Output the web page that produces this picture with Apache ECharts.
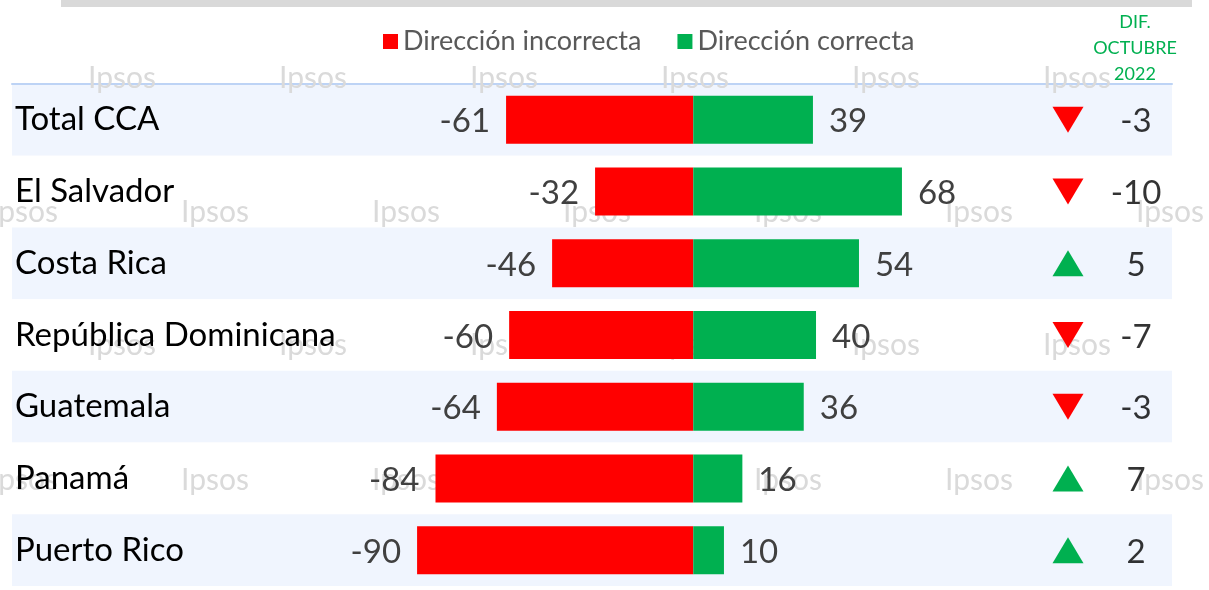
<!DOCTYPE html>
<html>
<head>
<meta charset="utf-8">
<script src="https://cdn.jsdelivr.net/npm/echarts@6/dist/echarts.min.js"></script>
<style>
  html, body { margin: 0; padding: 0; background: #fff; }
  #chart { width: 1209px; height: 590px; }
</style>
</head>
<body>
<div id="chart"></div>
<script>
// datos
const paises = ['Total CCA', 'El Salvador', 'Costa Rica', 'República Dominicana', 'Guatemala', 'Panamá', 'Puerto Rico']
const incorrecta = [-61, -32, -46, -60, -64, -84, -90]
const correcta = [39, 68, 54, 40, 36, 16, 10]
const difOctubre = [-3, -10, 5, -7, -3, 7, 2]
const columnasDif = ['flecha', 'dif']

const FONT = 'Lato'
const ROJO = '#FF0000'
const VERDE = '#00B050'

const chart = echarts.init(document.getElementById('chart'))

// marcas de agua "Ipsos"
const marcas = []
const filasMarca = [[78, 88], [212, -10], [345, 88], [480, -10]]
filasMarca.forEach(([y, x0]) => {
  for (let k = 0; k < 7; k++) {
    marcas.push({
      type: 'text', z: 1, x: x0 + 191 * k, y: y,
      style: { text: 'Ipsos', font: '30px ' + FONT, fill: '#DADADA', verticalAlign: 'middle' }
    })
  }
})

chart.setOption({
  animation: false,
  legend: {
    left: 378, top: 23,
    icon: 'rect', itemWidth: 15, itemHeight: 15, itemGap: 36,
    textStyle: { fontFamily: FONT, fontSize: 27, color: '#595959' },
    data: ['Dirección incorrecta', 'Dirección correcta']
  },
  graphic: [
    { type: 'rect', z: 1, shape: { x: 61, y: 0, width: 1131, height: 7 }, style: { fill: '#D9D9D9' } },
    {
      type: 'text', z: 5, x: 1135, y: 9,
      style: {
        text: 'DIF.\nOCTUBRE\n2022', font: '18px ' + FONT, fill: VERDE,
        align: 'center', lineHeight: 26
      }
    }
  ].concat(marcas),
  grid: [
    { left: 12, width: 1160, top: 84, height: 502 },
    { left: 1034, width: 136, top: 84, height: 502 }
  ],
  xAxis: [
    {
      type: 'value', gridIndex: 0, position: 'top', min: -222, max: 156,
      axisLine: { show: true, lineStyle: { color: '#BDD3F5', width: 2 } },
      axisTick: { show: false }, axisLabel: { show: false }, splitLine: { show: false }
    },
    {
      type: 'category', gridIndex: 1, data: columnasDif, show: false
    }
  ],
  yAxis: [
    {
      type: 'category', gridIndex: 0, data: paises, inverse: true, z: 0,
      axisLine: { show: false }, axisTick: { show: false }, axisLabel: { show: false },
      splitArea: { show: true, areaStyle: { color: ['#F0F5FE', '#FFFFFF'] } }
    },
    {
      type: 'category', gridIndex: 0, data: paises, inverse: true, z: 5, position: 'left',
      axisLine: { show: false }, axisTick: { show: false },
      axisLabel: {
        inside: true, margin: 3, fontFamily: FONT, fontSize: 33, color: '#000',
        padding: [8, 0, 0, 0]
      }
    },
    {
      type: 'category', gridIndex: 1, data: paises, inverse: true, show: false
    }
  ],
  series: [
    {
      name: 'Dirección incorrecta', type: 'bar', stack: 'total', barWidth: 48,
      xAxisIndex: 0, yAxisIndex: 0,
      itemStyle: { color: ROJO },
      label: {
        show: true, position: 'left', distance: 16, offset: [0, 2],
        fontFamily: FONT, fontSize: 33, color: '#404040'
      },
      data: incorrecta
    },
    {
      name: 'Dirección correcta', type: 'bar', stack: 'total', barWidth: 48,
      xAxisIndex: 0, yAxisIndex: 0,
      itemStyle: { color: VERDE },
      label: {
        show: true, position: 'right', distance: 16, offset: [0, 2],
        fontFamily: FONT, fontSize: 33, color: '#404040'
      },
      data: correcta
    },
    {
      type: 'scatter', xAxisIndex: 1, yAxisIndex: 2,
      symbol: 'triangle', symbolSize: [31, 26],
      data: difOctubre.map((d, i) => ({
        value: [columnasDif[0], paises[i]],
        symbolRotate: d < 0 ? 180 : 0,
        itemStyle: { color: d < 0 ? ROJO : VERDE, opacity: 1 }
      }))
    },
    {
      type: 'scatter', xAxisIndex: 1, yAxisIndex: 2,
      symbolSize: 0,
      label: {
        show: true, position: 'inside', offset: [0, 2],
        fontFamily: FONT, fontSize: 33, color: '#000',
        formatter: p => String(difOctubre[p.dataIndex])
      },
      data: difOctubre.map((d, i) => [columnasDif[1], paises[i]])
    }
  ]
})
</script>
</body>
</html>
